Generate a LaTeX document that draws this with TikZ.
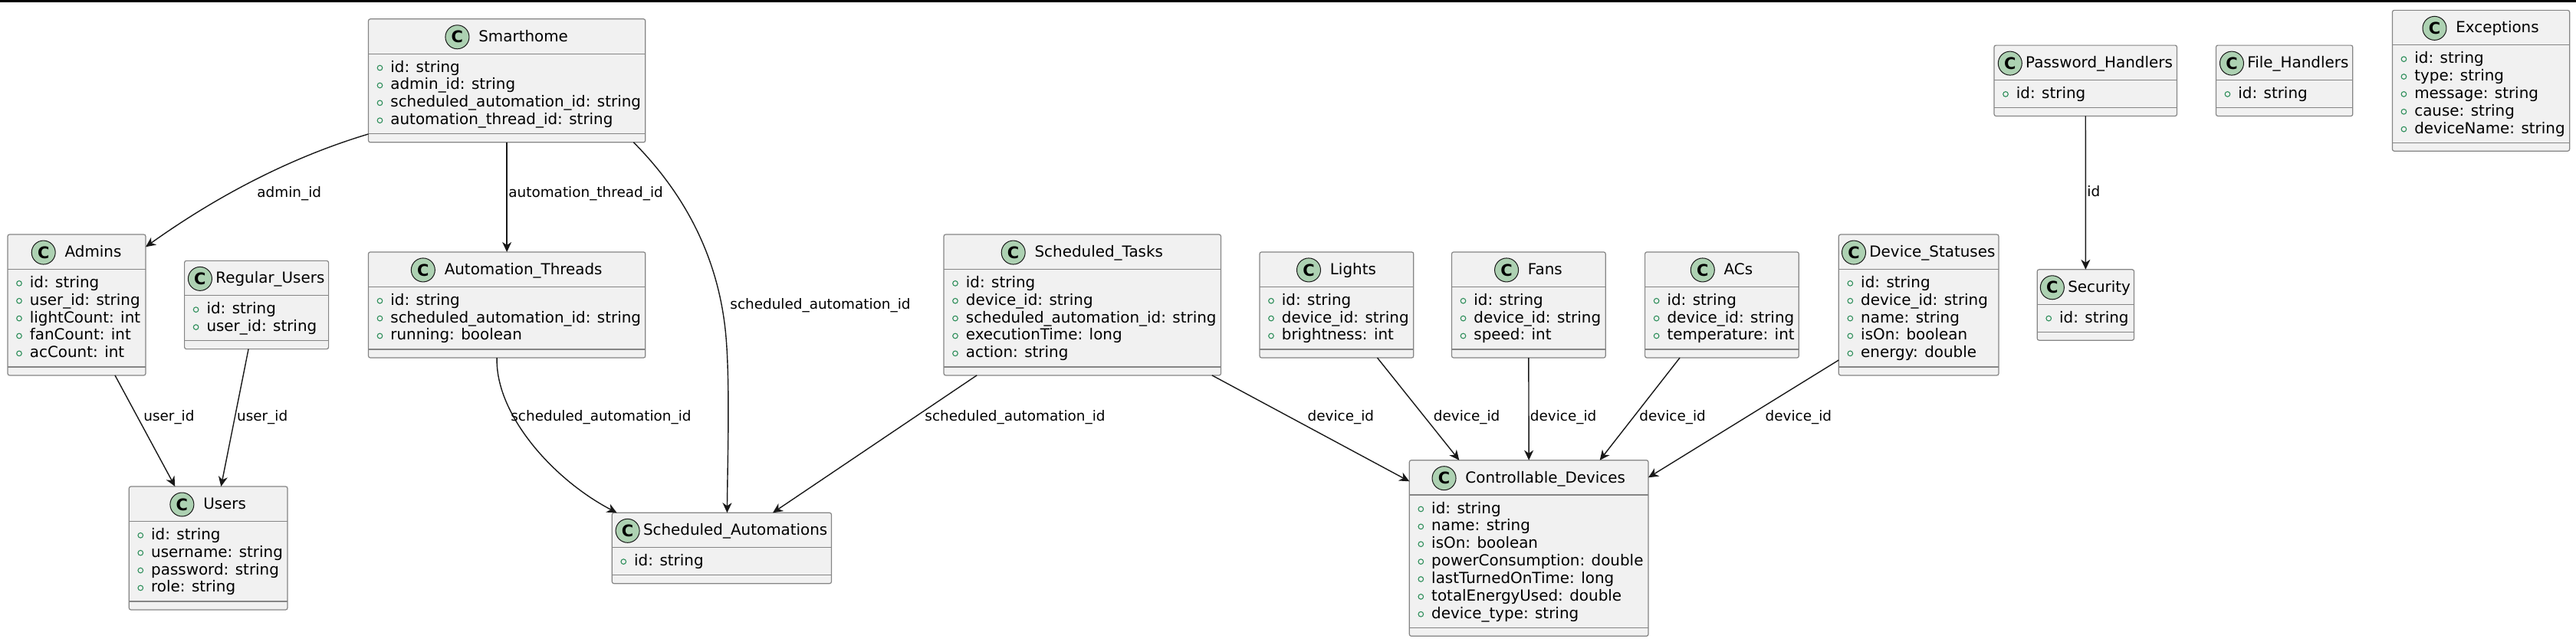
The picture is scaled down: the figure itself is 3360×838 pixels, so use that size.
\documentclass[tikz,border=0pt]{standalone}
\usepackage{fontspec}
\setmainfont{DejaVu Sans}
\usetikzlibrary{arrows.meta,calc}
\definecolor{boxfill}{HTML}{F1F1F1}
\definecolor{boxborder}{HTML}{858585}
\definecolor{iconfill}{HTML}{ADD1B2}
\definecolor{iconborder}{HTML}{181818}
\definecolor{visgreen}{HTML}{2F8F5B}
\definecolor{edgecol}{HTML}{181818}
\newcommand\clsfont{\fontsize{9.95}{12}\selectfont}
\newcommand\labfont{\fontsize{9.2}{11}\selectfont}
\newcommand\iconfont{\fontsize{10.5}{12}\selectfont\bfseries}
\tikzset{
  umlbox/.style={draw=boxborder, fill=boxfill, line width=0.6pt, rounded corners=1.25pt, inner sep=0pt, outer sep=0pt},
  secline/.style={draw=boxborder, line width=0.6pt},
  clsname/.style={font=\clsfont, inner sep=0pt, text=black},
  cicon/.style={circle, draw=iconborder, fill=iconfill, line width=0.5pt, minimum size=15.5pt, inner sep=0pt, font=\iconfont},
  attr/.style={font=\clsfont, inner sep=0pt, text=black},
  vis/.style={draw=visgreen, line width=0.55pt},
  rel/.style={draw=edgecol, line width=0.7pt, -{Stealth[length=6.5pt, width=6pt, inset=2pt]}},
  elabel/.style={font=\labfont, inner sep=0pt, anchor=base west, text=black},
}
% #1 name, #2 left, #3 right, #4 center y, #5 n attrs, #6 title, #7 gap, #8 attrs
\newcommand\umlclass[8]{%
  \pgfmathsetmacro\clsh{69.5+22.87*#5}%
  \pgfmathsetmacro\clscx{(#2+#3)/2}%
  \pgfmathsetmacro\clsw{#3-#2}%
  \pgfmathsetmacro\clstp{#4-\clsh/2}%
  \pgfmathsetmacro\clshl{\clstp+45.3}%
  \pgfmathsetmacro\clssl{\clshl+22.87*#5+13.2}%
  \node[umlbox, minimum width=\clsw*0.5pt, minimum height=\clsh*0.5pt] (#1) at (\clscx,#4) {};
  \draw[secline] (#2,\clshl) -- (#3,\clshl);
  \draw[secline] (#2,\clssl) -- (#3,\clssl);
  \node[clsname, anchor=base] (#1-name) at ({\clscx+(31+#7)/2},{\clstp+29.5}) {#6};
  \path let \p1=(#1-name.west) in node[cicon] (#1-icon) at (\x1-#7*0.5pt-7.75pt, {-(\clstp+23.5)*0.5pt}) {C};
  \foreach \a [count=\i] in {#8} {
    \pgfmathsetmacro\clsby{\clshl+24+22.87*(\i-1)}
    \node[attr, anchor=base west] (#1-a\i) at ({#2+28.5},\clsby) {\a};
    \draw[vis] ({#2+15},{\clsby-5.5}) circle[radius=1.65pt];
  }%
}
\begin{document}
\begin{tikzpicture}[x=0.5pt, y=-0.5pt]
\useasboundingbox (0,0) rectangle (3360,838);
\fill[black] (0,0) rectangle (3360,3.5);

\umlclass{smarthome}{480.5}{841.8}{105.3}{4}{Smarthome}{12}{id: string, admin\_id: string, scheduled\_automation\_id: string, automation\_thread\_id: string}
\umlclass{ph}{2601}{2839.5}{105.3}{1}{Password\_Handlers}{4.5}{id: string}
\umlclass{fh}{2890.4}{3068.8}{105.3}{1}{File\_Handlers}{4.5}{id: string}
\umlclass{exceptions}{3120.4}{3351.6}{105.3}{5}{Exceptions}{12}{id: string, type: string, message: string, cause: string, deviceName: string}

\umlclass{admins}{10}{190}{398}{5}{Admins}{12}{id: string, user\_id: string, lightCount: int, fanCount: int, acCount: int}
\umlclass{regusers}{240.6}{428.6}{398}{2}{Regular\_Users}{4.5}{id: string, user\_id: string}
\umlclass{autothreads}{480.5}{841.8}{398}{3}{Automation\_Threads}{12}{id: string, scheduled\_automation\_id: string, running: boolean}
\umlclass{schedtasks}{1231}{1592.5}{398}{5}{Scheduled\_Tasks}{12}{id: string, device\_id: string, scheduled\_automation\_id: string, executionTime: long, action: string}
\umlclass{lights}{1643}{1843.8}{398}{3}{Lights}{12}{id: string, device\_id: string, brightness: int}
\umlclass{fans}{1893.5}{2094.2}{398}{3}{Fans}{12}{id: string, device\_id: string, speed: int}
\umlclass{acs}{2145.6}{2346.3}{398}{3}{ACs}{12}{id: string, device\_id: string, temperature: int}
\umlclass{devstat}{2398.3}{2607}{398}{5}{Device\_Statuses}{4.5}{id: string, device\_id: string, name: string, isOn: boolean, energy: double}
\umlclass{security}{2657.2}{2783.5}{398}{1}{Security}{4.5}{id: string}

\umlclass{users}{168.3}{375}{715.5}{4}{Users}{12}{id: string, username: string, password: string, role: string}
\umlclass{schedauto}{798.3}{1084.5}{715.5}{1}{Scheduled\_Automations}{4.5}{id: string}
\umlclass{cd}{1838.3}{2150}{715.5}{7}{Controllable\_Devices}{12}{id: string, name: string, isOn: boolean, powerConsumption: double, lastTurnedOnTime: long, totalEnergyUsed: double, device\_type: string}

% connectors
\draw[rel] ([shift={(0,-10.8)}]smarthome.south west) .. controls (383.5,204) and (287,253) .. ([shift={(0,16.2)}]admins.north east);
\draw[rel] (smarthome.south) -- (autothreads.north);
\draw[rel] ([shift={(-15.4,0)}]smarthome.south east) .. controls (890,250) and (935,330) .. (946,430) .. controls (952.6,490) and (949,600) .. ([shift={(7,0)}]schedauto.north);
\draw[rel] ([shift={(-13,0)}]autothreads.south) .. controls (646,540) and (720,625) .. ([shift={(6.3,0)}]schedauto.north west);
\draw[rel] ([shift={(50,0)}]admins.south) -- ([shift={(-43.35,0)}]users.north);
\draw[rel] ([shift={(-10.5,0)}]regusers.south) -- ([shift={(16.65,0)}]users.north);
\draw[rel] ([shift={(-137.65,0)}]schedtasks.south) -- ([shift={(66.6,0)}]schedauto.north);
\draw[rel] ([shift={(169.15,0)}]schedtasks.south) -- ([shift={(0,27.6)}]cd.north west);
\draw[rel] ([shift={(53.1,0)}]lights.south) -- ([shift={(-90.85,0)}]cd.north);
\draw[rel] (fans.south) -- (cd.north);
\draw[rel] ([shift={(-54.95,0)}]acs.south) -- ([shift={(92.55,0)}]cd.north);
\draw[rel] ([shift={(0,-19.9)}]devstat.south west) -- ([shift={(0,22.6)}]cd.north east);
\draw[rel] (ph.south) -- (security.north);

% labels
\node[elabel] (l1) at (335,258) {admin\_id};
\node[elabel] (l2) at (663,258) {automation\_thread\_id};
\node[elabel] (l3) at (952,404) {scheduled\_automation\_id};
\node[elabel] (l4) at (666,550) {scheduled\_automation\_id};
\node[elabel] (l5) at (187,550) {user\_id};
\node[elabel] (l6) at (308.7,550) {user\_id};
\node[elabel] (l7) at (1206,550) {scheduled\_automation\_id};
\node[elabel] (l8) at (1705.3,550) {device\_id};
\node[elabel] (l9) at (1869.5,550) {device\_id};
\node[elabel] (l10) at (1995.5,550) {device\_id};
\node[elabel] (l11) at (2138,550) {device\_id};
\node[elabel] (l12) at (2302.3,550) {device\_id};
\node[elabel] (l13) at (2722,257) {id};
\end{tikzpicture}
\end{document}
